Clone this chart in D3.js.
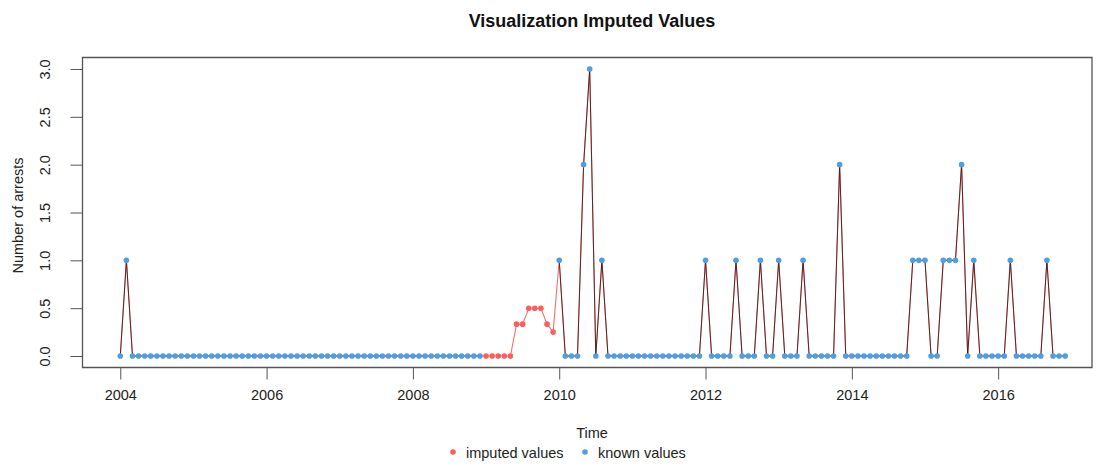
<!DOCTYPE html>
<html>
<head>
<meta charset="utf-8">
<script src="https://cdn.jsdelivr.net/npm/d3@7"></script>
<style>
  html, body { margin: 0; padding: 0; background: #fff; }
  svg { display: block; font-family: "Liberation Sans", Arial, sans-serif; }
</style>
</head>
<body>
<svg id="chart" width="1096" height="466"></svg>
<script>
// ---- data (monthly, Jan 2004 .. Dec 2016) ----
const startYear = 2004;
const knownValues = [
  // 2004
  0,1,0,0,0,0,0,0,0,0,0,0,
  // 2005
  0,0,0,0,0,0,0,0,0,0,0,0,
  // 2006
  0,0,0,0,0,0,0,0,0,0,0,0,
  // 2007
  0,0,0,0,0,0,0,0,0,0,0,0,
  // 2008
  0,0,0,0,0,0,0,0,0,0,0,0,
  // 2009 (missing)
  null,null,null,null,null,null,null,null,null,null,null,null,
  // 2010
  1,0,0,0,2,3,0,1,0,0,0,0,
  // 2011
  0,0,0,0,0,0,0,0,0,0,0,0,
  // 2012
  1,0,0,0,0,1,0,0,0,1,0,0,
  // 2013
  1,0,0,0,1,0,0,0,0,0,2,0,
  // 2014
  0,0,0,0,0,0,0,0,0,0,1,1,
  // 2015
  1,0,0,1,1,1,2,0,1,0,0,0,
  // 2016
  0,0,1,0,0,0,0,0,1,0,0,0
];
const imputed2009 = [0,0,0,0,0,0.333,0.333,0.5,0.5,0.5,0.333,0.25];
const imputedStartIndex = 60;
const yTicks = [0, 0.5, 1.0, 1.5, 2.0, 2.5, 3.0];
const xTicks = [2004, 2006, 2008, 2010, 2012, 2014, 2016];
const titleText = "Visualization Imputed Values";
const xLabel = "Time";
const yLabel = "Number of arrests";
const legendLabels = ["imputed values", "known values"];

// ---- derived series ----
const timeOf = i => startYear + i / 12;
const fullSeries = knownValues.map((v, i) => {
  const j = i - imputedStartIndex;
  return (v === null && j >= 0 && j < imputed2009.length) ? imputed2009[j] : v;
});
const isImputed = knownValues.map(v => v === null);

// ---- layout ----
const svg = d3.select("#chart");
const plotLeft = 82.5, plotTop = 57.5, plotBottom = 367.5, plotRightVisible = 1092;

const n = knownValues.length;
const tMin = timeOf(0), tMax = timeOf(n - 1);
const xPad = (tMax - tMin) * 0.04;
const x = d3.scaleLinear().domain([tMin - xPad, tMax + xPad]).range([plotLeft, 1103]);
const y = d3.scaleLinear().domain([-0.12, 3.12]).range([plotBottom, plotTop]);

const textColor = "#222";
const redCol = "#ff5c5c";
const blueCol = "#4f9ee0";
const tickFont = 14.5;

// Title
svg.append("text")
  .attr("x", 592).attr("y", 27)
  .attr("text-anchor", "middle")
  .attr("font-size", 18).attr("font-weight", "bold")
  .attr("fill", "#111")
  .text(titleText);

// Clip
svg.append("clipPath").attr("id", "clip")
  .append("rect").attr("x", plotLeft).attr("y", plotTop)
  .attr("width", plotRightVisible - plotLeft).attr("height", plotBottom - plotTop);

const g = svg.append("g").attr("clip-path", "url(#clip)");

// Imputed (full) line in red
const lineFull = d3.line()
  .x((d, i) => x(timeOf(i)))
  .y(d => y(d));
g.append("path")
  .datum(fullSeries)
  .attr("fill", "none")
  .attr("stroke", "#f27070")
  .attr("stroke-width", 1.1)
  .attr("d", lineFull);

// Known line (dark), gaps where missing
const lineKnown = d3.line()
  .defined(d => d !== null)
  .x((d, i) => x(timeOf(i)))
  .y(d => y(d));
g.append("path")
  .datum(knownValues)
  .attr("fill", "none")
  .attr("stroke", "#3a1010")
  .attr("stroke-width", 1)
  .attr("stroke-opacity", 0.8)
  .attr("d", lineKnown);

// Points
g.selectAll("circle.pt")
  .data(fullSeries.map((v, i) => ({ v, i, imp: isImputed[i] })))
  .enter().append("circle")
  .attr("class", "pt")
  .attr("cx", d => x(timeOf(d.i)))
  .attr("cy", d => y(d.v))
  .attr("r", 2.8)
  .attr("fill", d => d.imp ? redCol : blueCol);

// Box
svg.append("path")
  .attr("d", `M${plotRightVisible},${plotTop}H${plotLeft}V${plotBottom}H${plotRightVisible}Z`)
  .attr("fill", "none").attr("stroke", "#555").attr("stroke-width", 1.3);

// Y axis
const yAxis = d3.axisLeft(y).tickValues(yTicks).tickSize(12)
  .tickFormat(d3.format(".1f"));
const yg = svg.append("g").attr("transform", `translate(${plotLeft},0)`).call(yAxis);
yg.select(".domain").remove();
yg.selectAll(".tick line").attr("stroke", "#555");
yg.selectAll(".tick text")
  .attr("font-size", tickFont).attr("fill", textColor)
  .attr("font-family", "Liberation Sans, Arial, sans-serif")
  .attr("transform", "rotate(-90)")
  .attr("x", 0).attr("y", -33).attr("dy", 0)
  .attr("text-anchor", "middle");

// X axis
const xAxis = d3.axisBottom(x).tickValues(xTicks).tickSize(12).tickPadding(10)
  .tickFormat(d3.format("d"));
const xg = svg.append("g").attr("transform", `translate(0,${plotBottom})`).call(xAxis);
xg.select(".domain").remove();
xg.selectAll(".tick line").attr("stroke", "#555");
xg.selectAll(".tick text").attr("font-size", tickFont).attr("fill", textColor)
  .attr("font-family", "Liberation Sans, Arial, sans-serif");

// Axis titles
svg.append("text")
  .attr("x", 592).attr("y", 438)
  .attr("text-anchor", "middle").attr("font-size", 14.5).attr("fill", textColor)
  .text(xLabel);
svg.append("text")
  .attr("transform", `translate(23,${(plotTop + plotBottom) / 2 + 3}) rotate(-90)`)
  .attr("text-anchor", "middle").attr("font-size", 14.5).attr("fill", textColor)
  .text(yLabel);

// Legend
const legend = svg.append("g");
const legendItems = [
  { label: legendLabels[0], color: redCol, cx: 453, tx: 466 },
  { label: legendLabels[1], color: blueCol, cx: 585, tx: 598 }
];
legendItems.forEach(it => {
  legend.append("circle").attr("cx", it.cx).attr("cy", 452).attr("r", 2.8).attr("fill", it.color);
  legend.append("text").attr("x", it.tx).attr("y", 457.5)
    .attr("font-size", 14.5).attr("fill", textColor).text(it.label);
});
</script>
</body>
</html>
